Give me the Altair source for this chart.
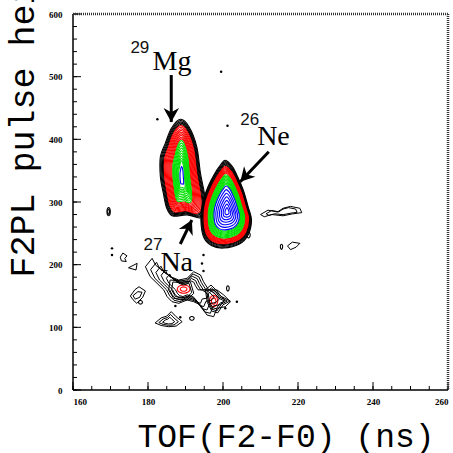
import altair as alt
import numpy as np
import pandas as pd

# ---------------- data (data units) ----------------
# 29Mg peak: centre and outer contour vertices
mg_cx, mg_cy = 189.0, 340.0
mg_x = [188.6, 190.9, 193.0, 194.0, 195.2, 195.4, 193.8, 190.4, 186.6, 185.0, 184.1, 183.3, 183.3, 184.6, 186.2]
mg_y = [432.0, 420.5, 388.5, 345.6, 308.5, 283.0, 274.5, 279.5, 277.6, 290.0, 313.7, 340.4, 372.3, 393.6, 417.4]
# contour bands: colour, number of levels, x-fraction start/end, y-fraction start/end
mg_bands = [("black", 5, 1.00, 0.84, 1.00, 0.91),
            ("red", 9, 0.80, 0.45, 0.89, 0.66),
            ("#00e000", 9, 0.41, 0.14, 0.63, 0.28),
            ("blue", 1, 0.08, 0.08, 0.18, 0.18)]

# 26Ne peak
ne_cx, ne_cy = 201.1, 284.5
ne_x = [200.6, 202.5, 203.9, 205.4, 206.7, 207.6, 206.7, 204.4, 200.2, 196.9, 194.8, 194.1, 194.5, 196.0, 197.8, 199.3]
ne_y = [366.5, 356.4, 340.4, 319.1, 292.5, 271.3, 247.3, 233.0, 226.5, 230.5, 244.6, 271.3, 297.9, 324.4, 345.6, 359.0]
ne_bands = [("black", 5, 1.00, 0.90, 1.00, 0.90),
            ("red", 7, 0.88, 0.75, 0.88, 0.75),
            ("#00e000", 8, 0.72, 0.53, 0.72, 0.53),
            ("blue", 7, 0.50, 0.08, 0.50, 0.08)]

# low-intensity (27Na region and background) contours
cloud_cx, cloud_cy = 190.5, 160.0
cloud_x = [179.3, 181.1, 182.0, 184.2, 186.0, 188.2, 190.4, 192.2, 194.0, 194.8, 196.2, 198.4, 200.2,
           202.0, 200.6, 198.4, 197.5, 195.7, 194.0, 192.2, 190.4, 188.2, 186.4, 185.1, 184.2, 182.4, 180.6]
cloud_y = [196.7, 210.1, 199.5, 188.8, 180.8, 175.5, 178.2, 188.8, 183.5, 172.8, 159.6, 159.6, 151.6,
           140.9, 132.9, 130.4, 117.0, 119.7, 135.6, 140.9, 143.6, 138.3, 140.9, 148.9, 159.6, 170.3, 180.8]
cloud_bands = [("black", 5, 1.00, 0.50, 1.00, 0.50)]

na_cx, na_cy = 189.5, 160.0
na_x = [185.9, 191.3, 192.2, 190.4, 186.8, 185.5]
na_y = [175.5, 172.8, 154.3, 143.6, 146.3, 159.6]
na_bands = [("black", 2, 1.00, 0.80, 1.00, 0.80)]

wig_cx, wig_cy = 216.0, 285.0
wig_x = [210.0, 212.0, 214.5, 216.0, 218.0, 220.5, 221.0, 218.5, 216.0, 213.0, 211.0]
wig_y = [280.0, 287.0, 284.0, 290.0, 293.0, 290.0, 283.0, 281.0, 278.0, 280.0, 276.5]
wig_bands = [("black", 2, 1.00, 0.75, 1.00, 0.75)]

spot_cx, spot_cy = 197.5, 142.0
spot_x = [195.3, 196.8, 198.4, 199.3, 201.9, 200.0, 198.6, 197.0, 195.8]
spot_y = [160.0, 167.5, 158.0, 150.0, 142.0, 136.0, 123.0, 126.0, 140.0]
spot_bands = [("black", 3, 1.00, 0.65, 1.00, 0.65)]

eye_cx, eye_cy = 185.5, 109.0
eye_x = [181.9, 183.5, 185.0, 186.2, 187.5, 189.1, 187.5, 185.5, 183.5]
eye_y = [107.0, 115.0, 118.0, 125.0, 117.0, 109.0, 102.0, 101.0, 103.0]
eye_bands = [("black", 3, 1.00, 0.45, 1.00, 0.45)]

small_polys = [  # (x list, y list)
    ([174.8, 177.1, 176.8], [195.0, 202.1, 191.5]),
    ([172.6, 173.3, 174.4, 173.8, 174.2, 172.9], [212.0, 218.6, 214.0, 210.0, 205.0, 206.0]),
    ([175.3, 176.5, 177.6, 179.3, 178.6, 177.0, 176.0], [150.0, 160.0, 164.8, 158.0, 148.0, 138.3, 144.0]),
    ([176.0, 177.3, 178.4, 177.8, 176.6], [150.5, 157.0, 156.0, 148.0, 145.0]),
    ([217.2, 218.5, 220.5, 219.5, 218.0], [230.0, 236.0, 234.0, 228.0, 224.0]),
]

# small ellipses: cx, cy, rx, ry, colour
ell_cx = [189.5, 189.5, 197.5, 197.5, 169.5, 169.5, 215.6, 206.8, 201.3, 191.7, 178.0]
ell_cy = [161.0, 161.0, 142.0, 142.0, 284.5, 284.5, 228.7, 247.3, 162.2, 114.4, 140.0]
ell_rx = [1.7, 0.9, 1.1, 0.6, 0.45, 0.25, 0.3, 0.45, 0.35, 0.6, 0.5]
ell_ry = [6.5, 3.5, 9.0, 5.0, 6.5, 4.0, 4.0, 4.5, 4.0, 3.0, 3.0]
ell_col = ["red", "red", "red", "red", "black", "black", "black", "black", "black", "black", "black"]

# isolated single counts
dot_x = [170.4, 170.4, 199.5, 182.5, 187.3, 188.6, 200.6, 203.7, 201.2, 194.8, 194.4, 194.8]
dot_y = [226.0, 215.4, 508.0, 432.0, 134.0, 116.0, 130.3, 140.9, 421.7, 215.4, 202.0, 190.0]

# annotations
lab_text = ["Mg", "Ne", "Na"]
lab_x = [181.2, 209.1, 183.3]
lab_y = [510.6, 391.0, 190.0]
sup_text = ["29", "26", "27"]
sup_x = [175.3, 204.6, 178.8]
sup_y = [537.7, 422.9, 223.4]
arr_x0 = [186.2, 212.2, 188.6]
arr_y0 = [502.6, 380.2, 233.0]
arr_x1 = [186.2, 204.6, 191.7]
arr_y1 = [427.6, 332.4, 271.3]
arr_ang = [180, 223, 26]

x_labels = [160, 180, 200, 220, 240, 260]
y_labels = [0, 100, 200, 300, 400, 500, 600]
x_minor = list(range(160, 261, 5))
y_minor = list(range(0, 601, 20))

# ---------------- build contour rings ----------------
smooth_rows, rough_rows = [], []


def add_rings(rows, sid, cx, cy, xs, ys, bands):
    xs = np.asarray(xs, float)
    ys = np.asarray(ys, float)
    k = 0
    for col, n, fx0, fx1, fy0, fy1 in bands:
        for fx, fy in zip(np.linspace(fx0, fx1, n), np.linspace(fy0, fy1, n)):
            rid = f"{sid}_{k}"
            k += 1
            for i, (px, py) in enumerate(zip(cx + fx * (xs - cx), cy + fy * (ys - cy))):
                rows.append(dict(ring=rid, o=i, x=px, y=py, c=col))


add_rings(smooth_rows, "mg", mg_cx, mg_cy, mg_x, mg_y, mg_bands)
add_rings(smooth_rows, "ne", ne_cx, ne_cy, ne_x, ne_y, ne_bands)
add_rings(rough_rows, "cloud", cloud_cx, cloud_cy, cloud_x, cloud_y, cloud_bands)
add_rings(rough_rows, "na", na_cx, na_cy, na_x, na_y, na_bands)
add_rings(rough_rows, "wig", wig_cx, wig_cy, wig_x, wig_y, wig_bands)
add_rings(rough_rows, "spot", spot_cx, spot_cy, spot_x, spot_y, spot_bands)
add_rings(rough_rows, "eye", eye_cx, eye_cy, eye_x, eye_y, eye_bands)
for j, (xs_, ys_) in enumerate(small_polys):
    for i, (px, py) in enumerate(zip(xs_, ys_)):
        rough_rows.append(dict(ring=f"sp{j}", o=i, x=px, y=py, c="black"))
t = np.linspace(0, 2 * np.pi, 13)[:-1]
for j in range(len(ell_cx)):
    for i, a in enumerate(t):
        smooth_rows.append(dict(ring=f"el{j}", o=i, x=ell_cx[j] + ell_rx[j] * np.cos(a),
                                y=ell_cy[j] + ell_ry[j] * np.sin(a), c=ell_col[j]))

smooth_df = pd.DataFrame(smooth_rows)
rough_df = pd.DataFrame(rough_rows)

W, H = 375, 376
xs = alt.Scale(domain=[160, 260], nice=False, zero=False)
ys = alt.Scale(domain=[0, 600], nice=False, zero=False)
MONO = "Courier New, Courier, Nimbus Mono PS, FreeMono, Liberation Mono, monospace"

X = alt.X("x:Q", scale=xs, axis=alt.Axis(
    values=x_labels, ticks=False, domain=False, grid=False, labelFont="Liberation Serif",
    labelFontWeight="bold", labelFontSize=9, labelColor="black", labelPadding=7,
    title="TOF(F2-F0) (ns)", titleFont=MONO, titleFontSize=33, titleFontWeight="normal",
    titleColor="black", titleX=64, titleY=56, titleAlign="left", titleBaseline="alphabetic", titleAngle=0))
Y = alt.Y("y:Q", scale=ys, axis=alt.Axis(
    values=y_labels, ticks=False, domain=False, grid=False, labelFont="Liberation Serif",
    labelFontWeight="bold", labelFontSize=9, labelColor="black", labelPadding=11,
    title="F2PL pulse height", titleFont=MONO, titleFontSize=35, titleFontWeight="normal",
    titleColor="black", titleX=-40, titleY=263, titleAlign="left", titleBaseline="alphabetic",
    titleAngle=270))

smooth = alt.Chart(smooth_df).mark_line(interpolate="cardinal-closed", strokeWidth=1.1, clip=True).encode(
    x=X, y=Y, detail="ring:N", order="o:Q", color=alt.Color("c:N", scale=None))
rough = alt.Chart(rough_df).mark_line(interpolate="linear-closed", strokeWidth=1, clip=True).encode(
    x=alt.X("x:Q", scale=xs), y=alt.Y("y:Q", scale=ys), detail="ring:N", order="o:Q",
    color=alt.Color("c:N", scale=None))

dots = alt.Chart(pd.DataFrame({"x": dot_x, "y": dot_y})).mark_point(
    filled=True, color="black", size=6, opacity=1).encode(x=alt.X("x:Q", scale=xs), y=alt.Y("y:Q", scale=ys))

arr_df = pd.DataFrame({"x0": arr_x0, "y0": arr_y0, "x1": arr_x1, "y1": arr_y1, "a": arr_ang})
shafts = alt.Chart(arr_df).mark_rule(color="black", strokeWidth=3).encode(
    x=alt.X("x0:Q", scale=xs), y=alt.Y("y0:Q", scale=ys), x2="x1:Q", y2="y1:Q")
heads = alt.Chart(arr_df).mark_point(
    shape="M0,0L1,1.8L0,1.25L-1,1.8Z", filled=True, color="black", size=240, opacity=1).encode(
    x=alt.X("x1:Q", scale=xs), y=alt.Y("y1:Q", scale=ys), angle=alt.Angle("a:Q", scale=None))

labs = alt.Chart(pd.DataFrame({"x": lab_x, "y": lab_y, "t": lab_text})).mark_text(
    font="Liberation Serif", fontSize=28, align="left", baseline="alphabetic", color="black").encode(
    x=alt.X("x:Q", scale=xs), y=alt.Y("y:Q", scale=ys), text="t:N")
sups = alt.Chart(pd.DataFrame({"x": sup_x, "y": sup_y, "t": sup_text})).mark_text(
    font="Liberation Sans", fontSize=17, align="left", baseline="alphabetic", color="#111").encode(
    x=alt.X("x:Q", scale=xs), y=alt.Y("y:Q", scale=ys), text="t:N")

# inward ticks
xt_major = alt.Chart(pd.DataFrame({"v": x_labels})).mark_rule(color="black", strokeWidth=1).encode(
    x=alt.X("v:Q", scale=xs), y=alt.value(H), y2=alt.value(H - 8))
xt_minor = alt.Chart(pd.DataFrame({"v": x_minor})).mark_rule(color="black", strokeWidth=1).encode(
    x=alt.X("v:Q", scale=xs), y=alt.value(H), y2=alt.value(H - 4))
yt_major = alt.Chart(pd.DataFrame({"v": y_labels})).mark_rule(color="black", strokeWidth=1).encode(
    y=alt.Y("v:Q", scale=ys), x=alt.value(0), x2=alt.value(8))
yt_minor = alt.Chart(pd.DataFrame({"v": y_minor})).mark_rule(color="black", strokeWidth=1).encode(
    y=alt.Y("v:Q", scale=ys), x=alt.value(0), x2=alt.value(4))

# frame
frame_lb = alt.Chart(pd.DataFrame({"k": [0]})).mark_rule(color="black", strokeWidth=1.5).encode(
    x=alt.value(0), x2=alt.value(0), y=alt.value(0), y2=alt.value(H))
frame_b = alt.Chart(pd.DataFrame({"k": [0]})).mark_rule(color="black", strokeWidth=1.5).encode(
    x=alt.value(0), x2=alt.value(W), y=alt.value(H), y2=alt.value(H))
frame_t = alt.Chart(pd.DataFrame({"k": [0]})).mark_rule(color="#333", strokeWidth=2.5, strokeDash=[1, 1]).encode(
    x=alt.value(0), x2=alt.value(W), y=alt.value(0), y2=alt.value(0))
frame_r = alt.Chart(pd.DataFrame({"k": [0]})).mark_rule(color="#333", strokeWidth=2.5, strokeDash=[1, 1]).encode(
    x=alt.value(W), x2=alt.value(W), y=alt.value(0), y2=alt.value(H))

chart = alt.layer(
    smooth, rough, dots, xt_major, xt_minor, yt_major, yt_minor,
    frame_lb, frame_b, frame_t, frame_r, shafts, heads, labs, sups
).properties(
    width=W, height=H, autosize=alt.AutoSizeParams(type="none"),
    padding={"left": 73, "top": 14, "right": 5, "bottom": 63}, background="white"
).configure_view(stroke=None)

chart.save("out.html", embed_options={"renderer": "svg", "actions": False})
